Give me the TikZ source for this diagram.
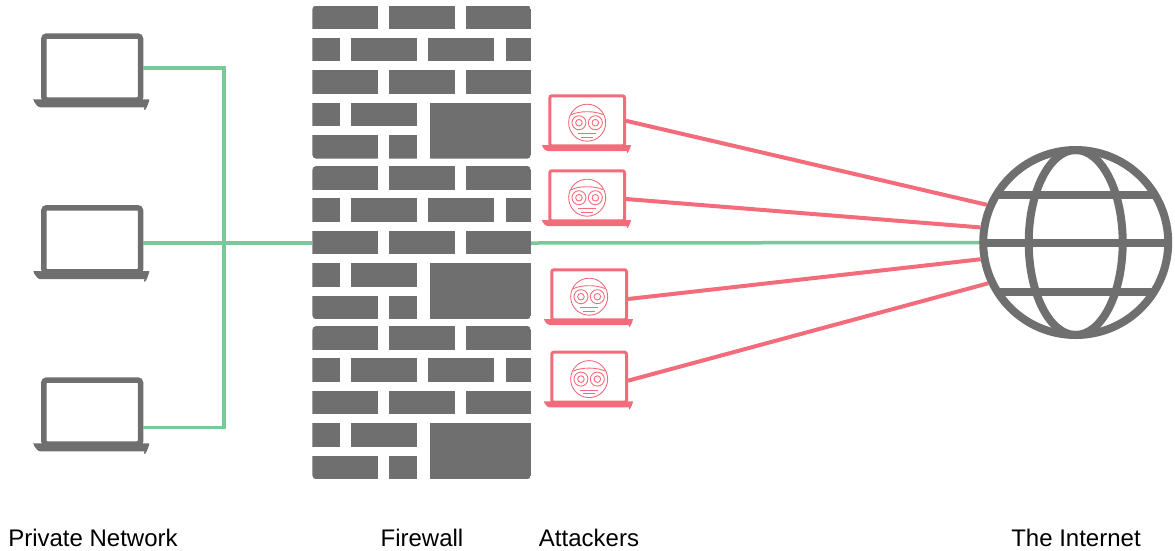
\documentclass[tikz,border=0pt]{standalone}
\usepackage{fontspec}
\setmainfont{Liberation Sans}
\usetikzlibrary{positioning}
\definecolor{wallgray}{HTML}{6F6F6F}
\definecolor{wiregreen}{HTML}{78C99A}
\definecolor{attackred}{HTML}{F36C7B}
\begin{document}
\begin{tikzpicture}[x=1pt,y=-1pt]
    % Define Styles
        \tikzstyle{pc} = [
            rectangle,
            draw = wallgray,
            line width = 5.5pt,
            rounded corners = 3pt,
            inner sep = 0pt,
            minimum width = 96.8pt,
            minimum height = 64pt
        ]
        \tikzstyle{attacker} = [
            rectangle,
            draw = attackred,
            line width = 3pt,
            rounded corners = 2pt,
            inner sep = 0pt,
            minimum width = 74.7pt,
            minimum height = 50pt
        ]
        \tikzstyle{caption} = [
            anchor = base,
            inner sep = 0pt,
            font = \fontsize{24}{28}\selectfont
        ]
        \tikzstyle{wire} = [draw = wiregreen, line width = 3.5pt]
        \tikzstyle{attack} = [draw = attackred, line width = 4pt]
        \tikzstyle{faceline} = [draw = attackred, line width = 0.9pt]
        \tikzstyle{globeline} = [draw = wallgray, line width = 8pt]
    \useasboundingbox (0,0) rectangle (1175,550);
    % Place nodes
        \node [pc] at (92.2,68) (pc1) {};
        \node [pc, below = 102.25pt of pc1] (pc2) {};
        \node [pc, below = 102.75pt of pc2] (pc3) {};
        \node [
            inner sep = 0pt,
            outer sep = 0pt,
            minimum width = 218.7pt,
            minimum height = 473.8pt
        ] at (421.65,243) (firewall) {};
        \node [attacker] at (587.15,120.8) (att1) {};
        \node [attacker, below = 22pt of att1] (att2) {};
        \node [attacker, below = 46pt of att2, xshift = 2pt] (att3) {};
        \node [attacker, below = 29.4pt of att3] (att4) {};
        \node [
            circle,
            globeline,
            inner sep = 0pt,
            minimum size = 185pt
        ] at (1075.7,242.5) (globe) {};
        \node [caption] at (93,546) (pc label) {Private Network};
        \node [caption] at (422,546) (firewall label) {Firewall};
        \node [caption] at (589,546) (att label) {Attackers};
        \node [caption] at (1076,546) (globe label) {The Internet};
        \coordinate [left = 88.3pt of firewall.west] (hub);
    % Bricks of the wall
        \foreach \top in {5.5,166,326} {
            \begin{scope}
                \clip [rounded corners = 4pt] (312.3,\top) rectangle ++(218.7,153.2);
                \foreach \bx/\by/\bw/\bh in {
                    0/0/65.4/23.5, 76.7/0/65.7/23.5, 153.7/0/65/23.5,
                    0/32/27.2/23.5, 38.7/32/66/23.5, 115.7/32/65.5/23.5, 193.7/32/25/23.5,
                    0/64.5/65.4/23.5, 76.7/64.5/65.7/23.5, 153.7/64.5/65/23.5,
                    0/97.2/27.2/23.5, 38.7/97.2/66/23.5, 117.7/97.2/101/56,
                    0/129.7/65.4/23.5, 76.7/129.7/28/23.5
                } {
                    \fill [wallgray] (312.3+\bx,\top+\by) rectangle ++(\bw,\bh);
                }
            \end{scope}
        }
    % Laptop bases
        \foreach \name in {pc1,pc2,pc3} {
            \fill [wallgray] (\name.south) ++(-57.1,-3.5) -- ++(114.2,0)
                .. controls ++(-0.5,5) and ++(-1,8) .. ++(-5,8) -- ++(-104.2,0)
                .. controls ++(-4,0) and ++(-4.5,-3) .. ++(-5,-8) -- cycle;
        }
        \foreach \name in {att1,att2,att3,att4} {
            \fill [attackred] (\name.south) ++(-43.9,-2.3) -- ++(87.8,0)
                .. controls ++(-0.5,4) and ++(-1,6) .. ++(-4,6) -- ++(-79.8,0)
                .. controls ++(-3,0) and ++(-3.5,-2) .. ++(-4,-6) -- cycle;
        }
    % Attacker faces
        \foreach \name in {att1,att2,att3,att4} {
            \begin{scope}[shift = {(\name.center)}, yshift = -1.9pt]
                \draw [faceline] (0,0) circle (18.5pt);
                \draw [faceline] (-8.2,0) circle (7pt);
                \draw [faceline] (8.2,0) circle (7pt);
                \draw [faceline] (-8.2,0) circle (3.3pt);
                \draw [faceline] (8.2,0) circle (3.3pt);
                \draw [faceline] (-16,-8) .. controls (-8,-12) and (8,-12) .. (16,-8);
                \draw [faceline] (-9,11) -- (9,11);
                \draw [faceline] (-6,14.5) -- (6,14.5);
            \end{scope}
        }
    % Globe lines
        \draw [globeline] (globe.center) ellipse (47pt and 92.5pt);
        \draw [globeline] (globe.center) ++(-92,0) -- ++(184,0);
        \draw [globeline] (globe.center) ++(-79.5,-47.3) -- ++(159,0);
        \draw [globeline] (globe.center) ++(-79.5,49) -- ++(159,0);
    % Draw edges
        \path [wire] (pc1.east) -| (hub);
        \path [wire] ([yshift = -15.3pt]pc3.east) -| (hub);
        \path [wire] (pc2.east |- hub) -- (firewall.west);
        \path [wire] (firewall.east) -- (globe.west);
        \path [attack] (att1.east) -- (globe.157);
        \path [attack] ([yshift = -3.2pt]att2.east) -- (globe.171);
        \path [attack] ([yshift = -4.2pt]att3.east) -- (globe.190);
        \path [attack] ([yshift = -3.5pt]att4.east) -- (globe.205);
    \end{tikzpicture}
\end{document}
